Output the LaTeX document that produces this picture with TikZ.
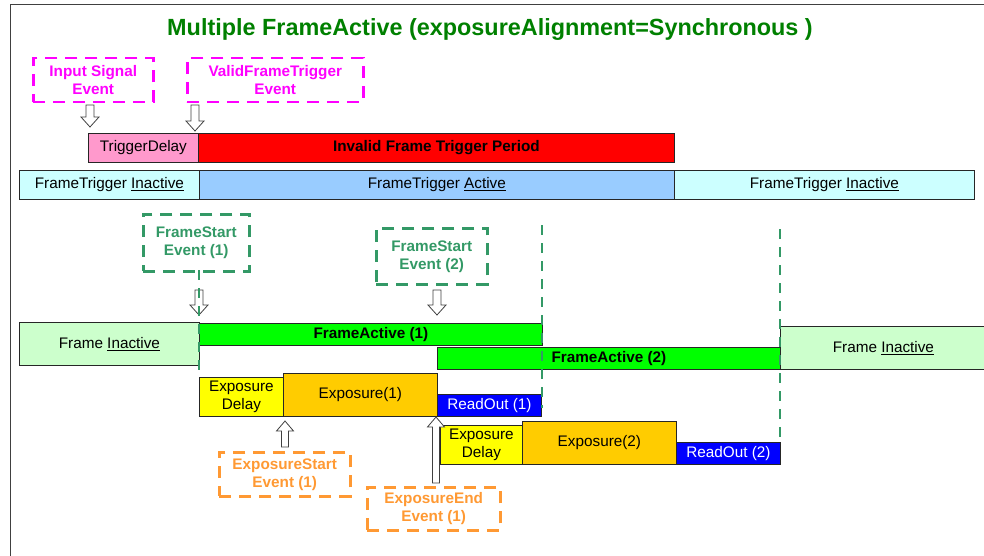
\documentclass[tikz,border=0pt]{standalone}
\usepackage{fontspec}
\setmainfont{Liberation Sans}
\usetikzlibrary{calc}
\definecolor{mag}{HTML}{FF00FF}
\definecolor{fsgreen}{HTML}{339966}
\definecolor{titlegreen}{HTML}{008000}
\definecolor{evorange}{HTML}{FF9933}
\definecolor{tdpink}{HTML}{FF99CC}
\definecolor{ftinact}{HTML}{CCFFFF}
\definecolor{ftact}{HTML}{99CCFF}
\definecolor{frinact}{HTML}{CCFFCC}
\definecolor{fractive}{HTML}{00FF00}
\definecolor{expdelay}{HTML}{FFFF00}
\definecolor{expo}{HTML}{FFCC00}
\definecolor{readout}{HTML}{0000FF}
\begin{document}
\begin{tikzpicture}[x=1pt,y=-1pt,
  every node/.style={font=\fontsize{15.3}{18}\selectfont, inner sep=0pt, align=center},
  bar/.style={draw=black!85, line width=0.8pt, anchor=north west},
  evbox/.style={dash pattern=on 12pt off 8pt, line width=2.5pt, anchor=north west, font=\fontsize{15.3}{18}\selectfont\bfseries},
  hollow/.style={draw=black!75, fill=white, line width=0.8pt},
  vdash/.style={draw=fsgreen, dash pattern=on 10pt off 8pt, line width=2.2pt},
  blockdown/.style={to path={($(\tikztostart)+(-4,0)$) -- ($(\tikztostart)+(4,0)$) -- ($(\tikztotarget)+(4,-10)$) -- ($(\tikztotarget)+(9,-10)$) -- (\tikztotarget) -- ($(\tikztotarget)+(-9,-10)$) -- ($(\tikztotarget)+(-4,-10)$) -- cycle}},
  blockup/.style={to path={($(\tikztostart)+(-3.5,0)$) -- ($(\tikztostart)+(3.5,0)$) -- ($(\tikztotarget)+(3.5,10)$) -- ($(\tikztotarget)+(8.5,10)$) -- (\tikztotarget) -- ($(\tikztotarget)+(-8.5,10)$) -- ($(\tikztotarget)+(-3.5,10)$) -- cycle}},
]
\useasboundingbox (0,0) rectangle (984,556);
\draw[black!75, line width=1pt] (10,556) -- (10,5) -- (984,5);

% title
\node[font=\fontsize{23.4}{28}\selectfont\bfseries, text=titlegreen] (title) at (490,30) {Multiple FrameActive (exposureAlignment=Synchronous )};

% trigger events
\node[evbox, draw=mag, text=mag, minimum width=120pt, minimum height=44pt] (ise) at (32,57) {Input Signal\\Event};
\node[evbox, draw=mag, text=mag, minimum width=176pt, minimum height=44pt] (vft) at (186,57) {ValidFrameTrigger\\Event};

% trigger bars
\node[bar, fill=tdpink, minimum width=110pt, minimum height=29pt] (td) at (88,133) {TriggerDelay};
\node[bar, fill=red, minimum width=476pt, minimum height=29pt, font=\fontsize{15.3}{18}\selectfont\bfseries] (ift) at (198,133) {Invalid Frame Trigger Period};
\node[bar, fill=ftinact, minimum width=180pt, minimum height=29pt] (fti1) at (19,170) {FrameTrigger \underline{Inactive}};
\node[bar, fill=ftact, minimum width=475pt, minimum height=29pt] (fta) at (199,170) {FrameTrigger \underline{Active}};
\node[bar, fill=ftinact, minimum width=300pt, minimum height=29pt] (fti2) at (674,170) {FrameTrigger \underline{Inactive}};

% frame start events
\node[evbox, draw=fsgreen, text=fsgreen, minimum width=106pt, minimum height=57pt] (fs1) at (142,213) {FrameStart\\Event (1)};
\node[evbox, draw=fsgreen, text=fsgreen, minimum width=111pt, minimum height=56pt] (fs2) at (375,227) {FrameStart\\Event (2)};

% frame bars
\node[bar, fill=frinact, minimum width=180pt, minimum height=43pt] (fin1) at (19,322) {Frame \underline{Inactive}};
\node[bar, fill=fractive, minimum width=343pt, minimum height=22pt, font=\fontsize{15.3}{18}\selectfont\bfseries] (fa1) at (199,323) {FrameActive (1)};
\node[bar, fill=fractive, minimum width=343pt, minimum height=22pt, font=\fontsize{15.3}{18}\selectfont\bfseries] (fa2) at (437,347) {FrameActive (2)};
\node[bar, fill=frinact, minimum width=206pt, minimum height=43pt] (fin2) at (780,326) {Frame \underline{Inactive}};

% exposure / readout
\node[bar, fill=expdelay, minimum width=84pt, minimum height=39pt] (ed1) at (199,377) {Exposure\\Delay};
\node[bar, fill=expo, minimum width=154pt, minimum height=43pt] (ex1) at (283,373) {Exposure(1)};
\node[bar, fill=readout, text=white, minimum width=104pt, minimum height=22pt] (ro1) at (437,394) {ReadOut (1)};
\node[bar, fill=expdelay, minimum width=82pt, minimum height=39pt] (ed2) at (440,425) {Exposure\\Delay};
\node[bar, fill=expo, minimum width=154pt, minimum height=43pt] (ex2) at (522,421) {Exposure(2)};
\node[bar, fill=readout, text=white, minimum width=104pt, minimum height=22pt] (ro2) at (676,442) {ReadOut (2)};

% exposure events
\node[evbox, draw=evorange, text=evorange, minimum width=131pt, minimum height=44pt] (es) at (218,451) {ExposureStart\\Event (1)};
\node[evbox, draw=evorange, text=evorange, minimum width=133pt, minimum height=43pt] (ee) at (366,486) {ExposureEnd\\Event (1)};

% block arrows
\coordinate (a1s) at (90,105);  \coordinate (a1e) at (90,127);
\coordinate (a2s) at (195,105); \coordinate (a2e) at (195,131);
\coordinate (a3s) at (199,290); \coordinate (a3e) at (199,315);
\coordinate (a4s) at (437,290); \coordinate (a4e) at (437,315);
\coordinate (a5s) at (285,447); \coordinate (a5e) at (285,421);
\coordinate (a6s) at (436,483); \coordinate (a6e) at (436,417);
\draw[hollow] (a1s) to[blockdown] (a1e);
\draw[hollow] (a2s) to[blockdown] (a2e);
\draw[hollow] (a3s) to[blockdown] (a3e);
\draw[hollow] (a4s) to[blockdown] (a4e);
\draw[hollow] (a5s) to[blockup] (a5e);
\draw[hollow] (a6s) to[blockup] (a6e);

% dashed vertical markers
\coordinate (v1a) at (199,270); \coordinate (v1b) at (199,377);
\coordinate (v2a) at (542,225); \coordinate (v2b) at (542,408);
\coordinate (v3a) at (780,229); \coordinate (v3b) at (780,441);
\draw[vdash] (v1a) -- (v1b);
\draw[vdash] (v2a) -- (v2b);
\draw[vdash] (v3a) -- (v3b);
\end{tikzpicture}
\end{document}
